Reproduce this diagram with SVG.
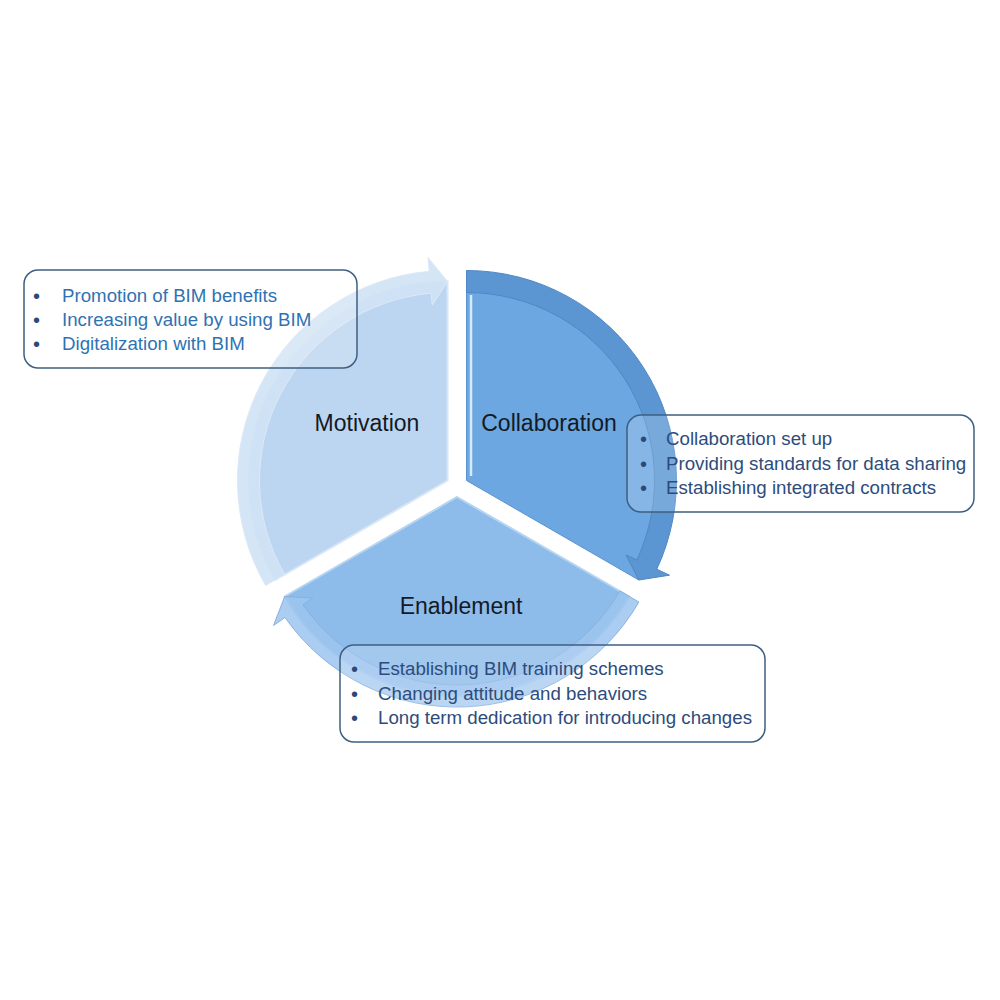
<svg xmlns="http://www.w3.org/2000/svg" width="1000" height="1000" viewBox="0 0 1000 1000">
  <style>
    .lbl { font-family: "Liberation Sans", Arial, sans-serif; font-size: 23px; fill: #141a24; text-anchor: middle; }
    .item { font-family: "Liberation Sans", Arial, sans-serif; font-size: 18.7px; }
    .blt { font-family: "Liberation Sans", Arial, sans-serif; font-size: 20px; fill: #2b4a7a; }
    .box { fill: #ffffff; fill-opacity: 0.18; stroke: #3f5f80; stroke-width: 1.5; }
  </style>
  <rect width="1000" height="1000" fill="#ffffff"/>

  <!-- pie segments -->
  <g id="seg-motivation">
    <path d="M447.5,480.5 L275.2,580 A199,199 0 0 1 447.5,281.5 Z" fill="#bcd5f0" stroke="#d6e7f7" stroke-width="2"/>
  </g>
  <g id="seg-collaboration">
    <path d="M466.5,480.5 L466.5,281.5 A199,199 0 0 1 638.8,580 Z" fill="#6ca7e1" stroke="#5a93cf" stroke-width="1"/>
    <line x1="471" y1="295" x2="471" y2="476" stroke="#d2ecfb" stroke-width="2.5"/>
  </g>
  <g id="seg-enablement">
    <path d="M457,497 L629.3,596.5 A199,199 0 0 1 284.7,596.5 Z" fill="#8ebcea" stroke="#b6d5f3" stroke-width="2"/>
  </g>

  <!-- cycle arrows -->
  <g id="connectors">
    <path d="M265.6,585.5 A210,210 0 0 1 429.2,271.3 L428,257.4 L447.5,281.5 L432.2,305.2 L431.1,293.2 A188,188 0 0 0 284.7,574.5 Z" fill="#cfe2f5" fill-opacity="0.9" stroke="#dde9f7" stroke-width="1"/>
    <path d="M466.5,270.5 A210,210 0 0 1 656.8,569.2 L669.5,575.2 L638.8,580 L626,554.9 L636.9,560 A188,188 0 0 0 466.5,292.5 Z" fill="#5b96d3" stroke="#4f88c5" stroke-width="1"/>
    <path d="M638.9,602 A210,210 0 0 1 285,617.5 L273.5,625.5 L284.7,596.5 L312.8,598 L303,604.8 A188,188 0 0 0 619.8,591 Z" fill="#9cc4ee" fill-opacity="0.85" stroke="#86b2e2" stroke-width="1"/>
  </g>

  <!-- labels -->
  <g id="label-motivation"><text class="lbl" x="367" y="431">Motivation</text></g>
  <g id="label-collaboration"><text class="lbl" x="549" y="431">Collaboration</text></g>
  <g id="label-enablement"><text class="lbl" x="461" y="614">Enablement</text></g>

  <!-- text boxes -->
  <g id="box-motivation">
    <rect class="box" x="24" y="270" width="333" height="98" rx="14"/>
    <text class="blt" x="33" y="303">•</text>
    <text class="blt" x="33" y="327">•</text>
    <text class="blt" x="33" y="351">•</text>
    <text class="item" x="62" y="302" fill="#2f72b3">Promotion of BIM benefits</text>
    <text class="item" x="62" y="326" fill="#2f72b3">Increasing value by using BIM</text>
    <text class="item" x="62" y="350" fill="#2f72b3">Digitalization with BIM</text>
  </g>
  <g id="box-collaboration">
    <rect class="box" x="627" y="415" width="347" height="97" rx="14"/>
    <text class="blt" x="640" y="446">•</text>
    <text class="blt" x="640" y="471">•</text>
    <text class="blt" x="640" y="495">•</text>
    <text class="item" x="666" y="445" fill="#2d4c7c">Collaboration set up</text>
    <text class="item" x="666" y="470" fill="#2d4c7c">Providing standards for data sharing</text>
    <text class="item" x="666" y="494" fill="#2d4c7c">Establishing integrated contracts</text>
  </g>
  <g id="box-enablement">
    <rect class="box" x="340" y="645" width="425" height="97" rx="14"/>
    <text class="blt" x="351" y="676">•</text>
    <text class="blt" x="351" y="701">•</text>
    <text class="blt" x="351" y="725">•</text>
    <text class="item" x="378" y="675" fill="#2d4c7c">Establishing BIM training schemes</text>
    <text class="item" x="378" y="700" fill="#2d4c7c">Changing attitude and behaviors</text>
    <text class="item" x="378" y="724" fill="#2d4c7c">Long term dedication for introducing changes</text>
  </g>
</svg>
